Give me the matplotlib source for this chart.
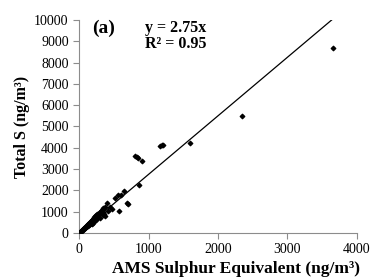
import matplotlib.pyplot as plt

plt.rcParams['font.family'] = ['Liberation Serif', 'DejaVu Serif']

# AMS sulphur equivalent (ng/m3) vs total S (ng/m3)
ams_s = [5, 10, 15, 20, 25, 30, 35, 40, 45, 50, 55, 60, 65, 70, 75, 80, 85, 90,
         95, 100, 105, 110, 115, 120, 125, 130, 135, 140, 145, 150, 155, 160,
         165, 170, 175, 180, 185, 190, 195, 200, 210, 215, 220, 230, 235, 240,
         250, 255, 260, 270, 280, 290, 300, 310, 320, 330, 340, 345, 350, 360,
         370, 380, 400, 420, 450, 470, 510, 560, 570, 600, 640, 690, 700, 180,
         200, 250, 300, 130, 160, 220, 810, 830, 850, 900, 860, 1170, 1190,
         1210, 1600, 2350, 3660]
total_s = [20, 40, 50, 60, 80, 90, 110, 120, 140, 150, 170, 180, 200, 210, 230,
           250, 240, 280, 300, 320, 290, 340, 310, 360, 400, 380, 430, 390, 470,
           420, 500, 450, 520, 470, 560, 600, 500, 620, 650, 540, 700, 600, 750,
           650, 800, 700, 850, 760, 900, 820, 950, 880, 1000, 920, 1050, 1100,
           1000, 850, 1150, 900, 780, 1200, 1400, 1050, 1200, 1130, 1630, 1800,
           1050, 1780, 1950, 1420, 1380, 420, 460, 600, 700, 330, 420, 550,
           3600, 3550, 3500, 3400, 2230, 4100, 4130, 4150, 4200, 5500, 8700]

slope = 2.75
r2 = 0.95

fig = plt.figure(figsize=(3.73, 2.77), dpi=100)
ax = fig.add_axes([0.212, 0.159, 0.745, 0.769])

ax.plot([0, 10000 / slope], [0, 10000], color='black', lw=0.9)
ax.scatter(ams_s, total_s, marker='D', s=5, color='black', zorder=3)

ax.set_xlim(0, 4000)
ax.set_ylim(0, 10000)
ax.set_xticks(range(0, 4001, 1000))
ax.set_yticks(range(0, 10001, 1000))

for side in ['top', 'right']:
    ax.spines[side].set_visible(False)
for side in ['left', 'bottom']:
    ax.spines[side].set_color('#8c8c8c')
ax.tick_params(direction='out', length=4, color='#8c8c8c', labelsize=10)

ax.set_xlabel('AMS Sulphur Equivalent (ng/m³)', fontsize=12.5,
              fontweight='bold')
ax.xaxis.set_label_coords(0.563, -0.19)
ax.xaxis.label.set_va('baseline')
ax.set_ylabel('Total S (ng/m³)', fontsize=11.5, fontweight='bold', labelpad=3)

ax.text(0.047, 0.939, '(a)', transform=ax.transAxes, fontsize=14,
        fontweight='bold', va='baseline')
ax.text(0.237, 0.944, 'y = 2.75x', transform=ax.transAxes, fontsize=11.5,
        fontweight='bold', va='baseline')
ax.text(0.237, 0.869, 'R² = %.2f' % r2, transform=ax.transAxes, fontsize=11.5,
        fontweight='bold', va='baseline')

fig.savefig('out.png', dpi=100)
